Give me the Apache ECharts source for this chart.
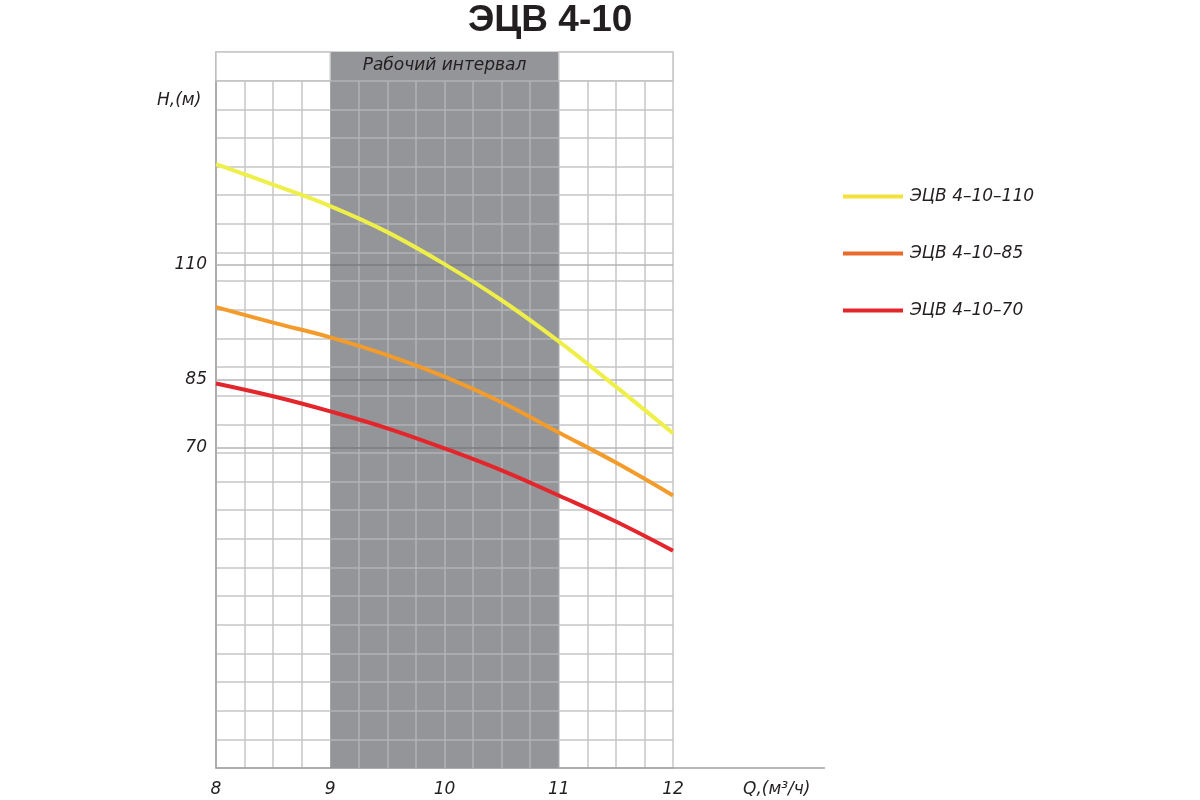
<!DOCTYPE html>
<html>
<head>
<meta charset="utf-8">
<script src="https://cdn.jsdelivr.net/npm/echarts@6/dist/echarts.min.js"></script>
<style>
html,body{margin:0;padding:0;background:#fff;}
#chart{width:1200px;height:800px;}
</style>
</head>
<body>
<div id="chart"></div>
<script>
// ---- data ----
const titleText = 'ЭЦВ 4-10';
const flow = [8, 8.5, 9, 9.5, 10, 10.5, 11, 11.5, 12];
const head110 = [132.1, 127.6, 122.9, 117.2, 110.2, 102.3, 93.3, 83.4, 73.2];
const head85 = [100.8, 97.4, 94.2, 90.3, 85.6, 80.0, 73.4, 66.8, 59.6];
const head70 = [84.1, 81.3, 78.0, 74.3, 69.9, 65.1, 59.6, 53.9, 47.5];
const seriesNames = ['ЭЦВ 4–10–110', 'ЭЦВ 4–10–85', 'ЭЦВ 4–10–70'];
const xTickLabels = [8, 9, 10, 11, 12];
const yTickLabels = [70, 85, 110];
const workRange = [9, 11];
const workLabel = 'Рабочий интервал';
const yName = 'H,(м)';
const xName = 'Q,(м³/ч)';

// ---- styling ----
const FONT = 'Liberation Sans';
const IFONT = 'DejaVu Sans';
const curveColors = ['#eeef48', '#f39c2c', '#e3262b'];
const legendColors = ['#f3e23c', '#e96b2c', '#e3262b'];
const shadeColor = '#939598';
const gridColor = '#c6c6c6';
const gridInShade = '#b2b3b6';
const textColor = '#231f20';
const rows = 25;          // grid rows on helper axis
const xMin = 8, xMax = 12, xStep = 0.25;
const yMax = 156.6;

function pairs(xs, ys) { return xs.map((x, i) => [x, ys[i]]); }

// light grid lines drawn over the shaded working interval
const shadeLines = [];
for (let r = 1; r < rows; r++) {
  shadeLines.push([{ coord: [workRange[0], r] }, { coord: [workRange[1], r] }]);
}
for (let x = workRange[0] + xStep; x < workRange[1] - 1e-9; x += xStep) {
  shadeLines.push([{ coord: [x, 0] }, { coord: [x, rows - 1] }]);
}
// reference lines at labelled heads
const refLines = [];
yTickLabels.forEach(v => {
  refLines.push([{ coord: [xMin, v], lineStyle: { color: '#b4b4b4' } }, { coord: [workRange[0], v] }]);
  refLines.push([{ coord: [workRange[0], v], lineStyle: { color: '#7c7d81' } }, { coord: [workRange[1], v] }]);
  refLines.push([{ coord: [workRange[1], v], lineStyle: { color: '#b4b4b4' } }, { coord: [xMax, v] }]);
});

const chart = echarts.init(document.getElementById('chart'));
const heads = [head110, head85, head70];
const itText = (size) => ({ fontFamily: IFONT, fontSize: size, fontStyle: 'italic', fontWeight: 'normal', color: textColor });

const option = {
  animation: false,
  backgroundColor: '#ffffff',
  title: [
    { text: titleText, left: 463, top: -3,
      textStyle: { fontFamily: FONT, fontSize: 37, fontWeight: 'bold', color: textColor } },
    { text: yName, left: 152, top: 87, textStyle: itText(17) }
  ],
  legend: {
    orient: 'vertical',
    left: 838, top: 183,
    itemWidth: 60, itemHeight: 4, itemGap: 40,
    icon: 'rect',
    textStyle: Object.assign(itText(17), { padding: [0, 0, 0, 2] }),
    data: seriesNames.map((n, i) => ({ name: n, itemStyle: { color: legendColors[i] } }))
  },
  grid: { left: 216, right: 527, top: 52, bottom: 32 },
  xAxis: {
    type: 'value', min: xMin, max: xMax, interval: xStep,
    name: xName, nameLocation: 'end', nameGap: 70,
    nameTextStyle: Object.assign(itText(17), { verticalAlign: 'top', align: 'left', padding: [13, 0, 0, 0] }),
    axisLine: { show: true, lineStyle: { color: '#a0a0a0', width: 1.5 } },
    axisTick: { show: false },
    axisLabel: Object.assign(itText(17), {
      margin: 13,
      formatter: v => (xTickLabels.indexOf(Math.round(v * 100) / 100) >= 0 ? String(v) : '')
    }),
    splitLine: { show: true, lineStyle: { color: gridColor, width: 1.5 } }
  },
  yAxis: [
    {
      type: 'value', min: 0, max: yMax,
      axisLine: { show: true, lineStyle: { color: '#a0a0a0', width: 1.5 } },
      axisTick: { show: false },
      axisLabel: Object.assign(itText(17), { customValues: yTickLabels, margin: 9 }),
      splitLine: { show: false }
    },
    {
      type: 'value', min: 0, max: rows, interval: 1, position: 'right',
      axisLine: { show: false }, axisTick: { show: false }, axisLabel: { show: false },
      splitLine: { show: true, lineStyle: { color: gridColor, width: 1.5 } }
    }
  ],
  series: [
    {
      name: 'bg', type: 'line', data: [], yAxisIndex: 1, z: 1, silent: true,
      markArea: {
        silent: true,
        data: [
          [{ coord: [workRange[0], 0], itemStyle: { color: shadeColor, borderWidth: 0 },
             label: Object.assign(itText(17), { show: true, position: 'insideTop', distance: 5, formatter: workLabel }) },
           { coord: [workRange[1], rows] }],
          [{ coord: [xMin, rows - 1], itemStyle: { color: '#ffffff', borderColor: gridColor, borderWidth: 1.5 },
             label: { show: false } },
           { coord: [workRange[0], rows] }],
          [{ coord: [workRange[1], rows - 1], itemStyle: { color: '#ffffff', borderColor: gridColor, borderWidth: 1.5 },
             label: { show: false } },
           { coord: [xMax, rows] }]
        ]
      }
    },
    {
      name: 'shadeGrid', type: 'line', data: [], yAxisIndex: 1, z: 2, silent: true,
      markLine: {
        silent: true, symbol: ['none', 'none'], label: { show: false },
        lineStyle: { color: gridInShade, width: 1.5, type: 'solid' },
        emphasis: { disabled: true },
        data: shadeLines
      }
    },
    {
      name: 'refLines', type: 'line', data: [], yAxisIndex: 0, z: 2, silent: true,
      markLine: {
        silent: true, symbol: ['none', 'none'], label: { show: false },
        lineStyle: { width: 1.5, type: 'solid' },
        emphasis: { disabled: true },
        data: refLines
      }
    }
  ].concat(seriesNames.map((n, i) => ({
    name: n, type: 'line', yAxisIndex: 0, z: 5,
    data: pairs(flow, heads[i]),
    smooth: 0.4, showSymbol: false, symbol: 'none',
    lineStyle: { color: curveColors[i], width: 4 },
    itemStyle: { color: curveColors[i] }
  })))
};
chart.setOption(option);

// extend baseline to the right, under the Q label
const p0 = chart.convertToPixel({ xAxisIndex: 0, yAxisIndex: 0 }, [xMax, 0]);
chart.setOption({
  graphic: [{
    type: 'line', silent: true, z: 10,
    shape: { x1: p0[0], y1: p0[1], x2: p0[0] + 152, y2: p0[1] },
    style: { stroke: '#a0a0a0', lineWidth: 1.5 }
  }]
});
</script>
</body>
</html>
